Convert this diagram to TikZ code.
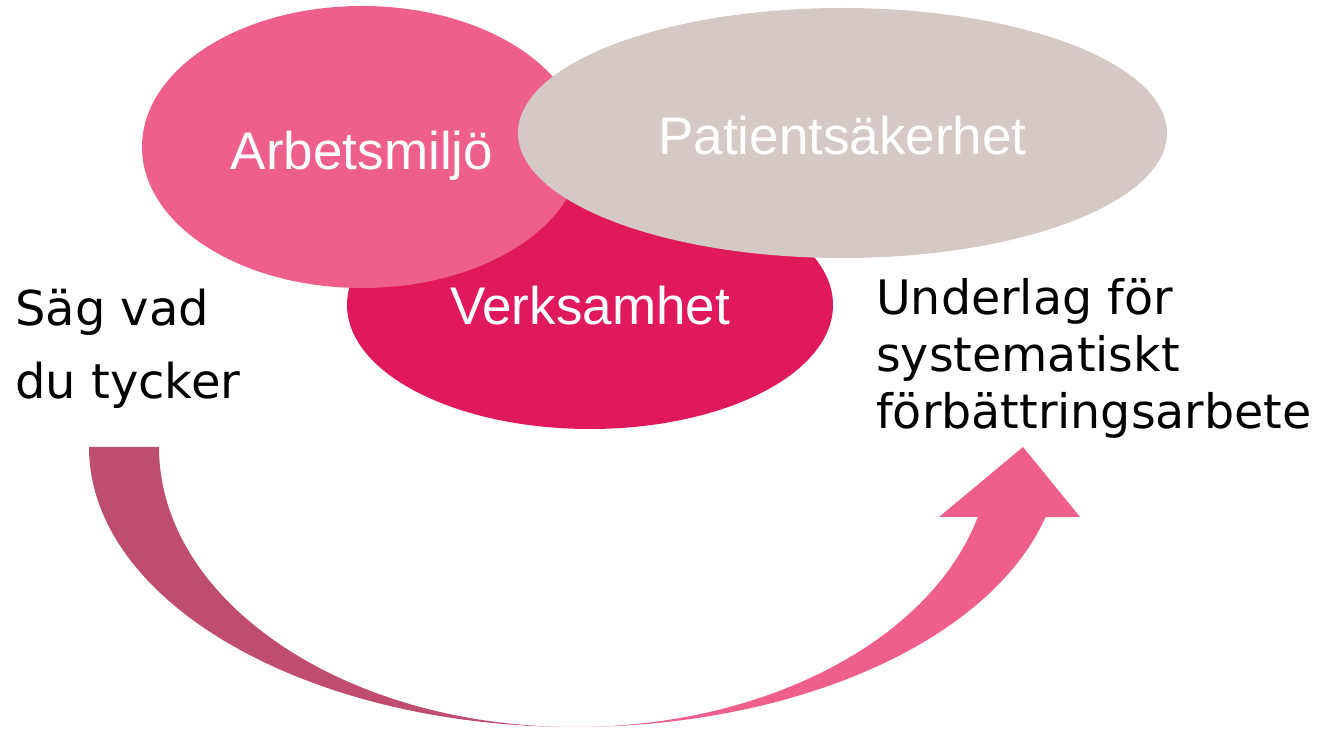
\documentclass[tikz,border=0pt]{standalone}
\usepackage{fontspec}
\setmainfont{Liberation Sans}
\newfontfamily\wideface{DejaVu Sans}
\usepackage{tikz}
\usetikzlibrary{shapes.geometric, positioning}
\definecolor{rosa}{HTML}{EE5F8C}
\definecolor{cerise}{HTML}{E01A5A}
\definecolor{sand}{HTML}{D5C9C5}
\definecolor{plum}{HTML}{BE4D70}
\newcommand{\sunk}[2]{\raisebox{-#1pt}[0pt][0pt]{#2}} % baseline placed below the centre
\tikzset{
x=1pt, y=1pt, % one unit is one pixel of the reference
bubble/.style={ellipse, inner sep=0pt, text=white, font=\fontsize{53}{60}\selectfont}, % the three areas
caption/.style={inner sep=0pt, anchor=north west, align=left}, % black text beside them
}

\begin{document}
\begin{tikzpicture}
            \useasboundingbox (0,0) rectangle (1319,731);
            \node[bubble, fill=cerise, minimum width=486, minimum height=248] (verk) at (590,426) {\sunk{20}{Verksamhet}};
            \node[bubble, fill=rosa, minimum width=440, minimum height=282] (arbm) at (362,584) {\sunk{23}{Arbetsmiljö}};
            \node[bubble, fill=sand, minimum width=649, minimum height=250] (pats) at (842.5,598) {\sunk{22}{Patientsäkerhet}};

            \node[caption, font=\wideface\fontsize{48}{73}\selectfont] (say) at (15,442) {Säg vad\\du tycker};
            \node[caption, font=\wideface\fontsize{47.5}{57}\selectfont] (basis) at (876,453) {Underlag för\\systematiskt\\förbättringsarbete};

            % the curved arrow, back part first
            \coordinate (low) at (575,4);
            \fill[plum] (89,284) arc[start angle=180, end angle=270, x radius=486pt, y radius=280pt]
                arc[start angle=270, end angle=180, x radius=416pt, y radius=280pt] -- cycle;
            \fill[rosa] (low) arc[start angle=270, end angle=345.52, x radius=486pt, y radius=280pt]
                -- (1080,214) -- (1023,284) -- (939,214) -- (977.8,214)
                arc[start angle=345.52, end angle=270, x radius=416pt, y radius=280pt] -- cycle;
\end{tikzpicture}
\end{document}
